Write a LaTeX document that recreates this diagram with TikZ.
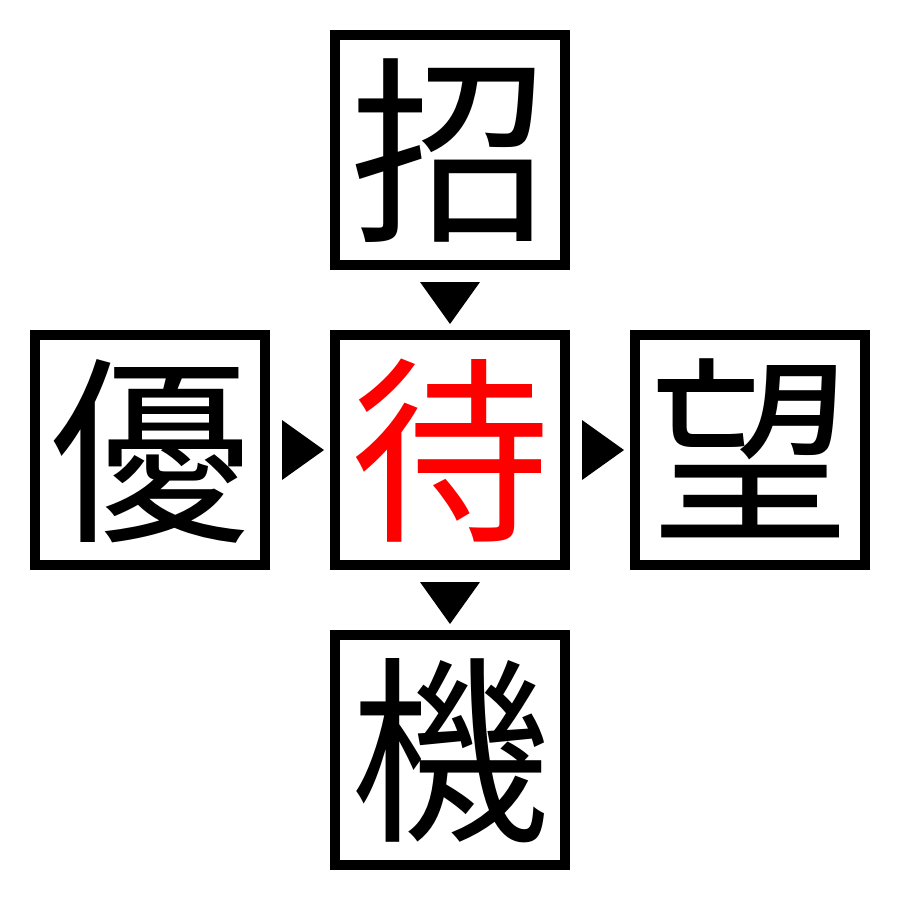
\documentclass[tikz,border=0pt]{standalone}
\usepackage{fontspec}
\newfontfamily\cjk{Noto Sans CJK JP}
\usetikzlibrary{calc}
\tikzset{
  kbox/.style={draw=black, line width=10pt, minimum width=230pt, minimum height=230pt, inner sep=0pt,
    font=\cjk\fontsize{200}{200}\selectfont, text height=176pt, text depth=24pt},
  tri/.style={fill=black}
}
\begin{document}
\begin{tikzpicture}[x=1pt, y=-1pt]
\useasboundingbox (0,0) rectangle (900,900);
\fill[white] (0,0) rectangle (900,900);
\node[kbox, text=black] (top) at (450,150) {招};
\node[kbox, text=red] (center) at (450,450) {待};
\node[kbox, text=black] (left) at (150,450) {優};
\node[kbox, text=black] (right) at (750,450) {望};
\node[kbox, text=black] (bottom) at (450,750) {機};
\fill[tri] ($(top.south)!0.5!(center.north)$) ++(-30,-18) -- ++(60,0) -- ++(-30,42) -- cycle;
\fill[tri] ($(center.south)!0.5!(bottom.north)$) ++(-30,-18) -- ++(60,0) -- ++(-30,42) -- cycle;
\fill[tri] ($(left.east)!0.5!(center.west)$) ++(-18,-30) -- ++(0,60) -- ++(42,-30) -- cycle;
\fill[tri] ($(center.east)!0.5!(right.west)$) ++(-18,-30) -- ++(0,60) -- ++(42,-30) -- cycle;
\end{tikzpicture}
\end{document}
